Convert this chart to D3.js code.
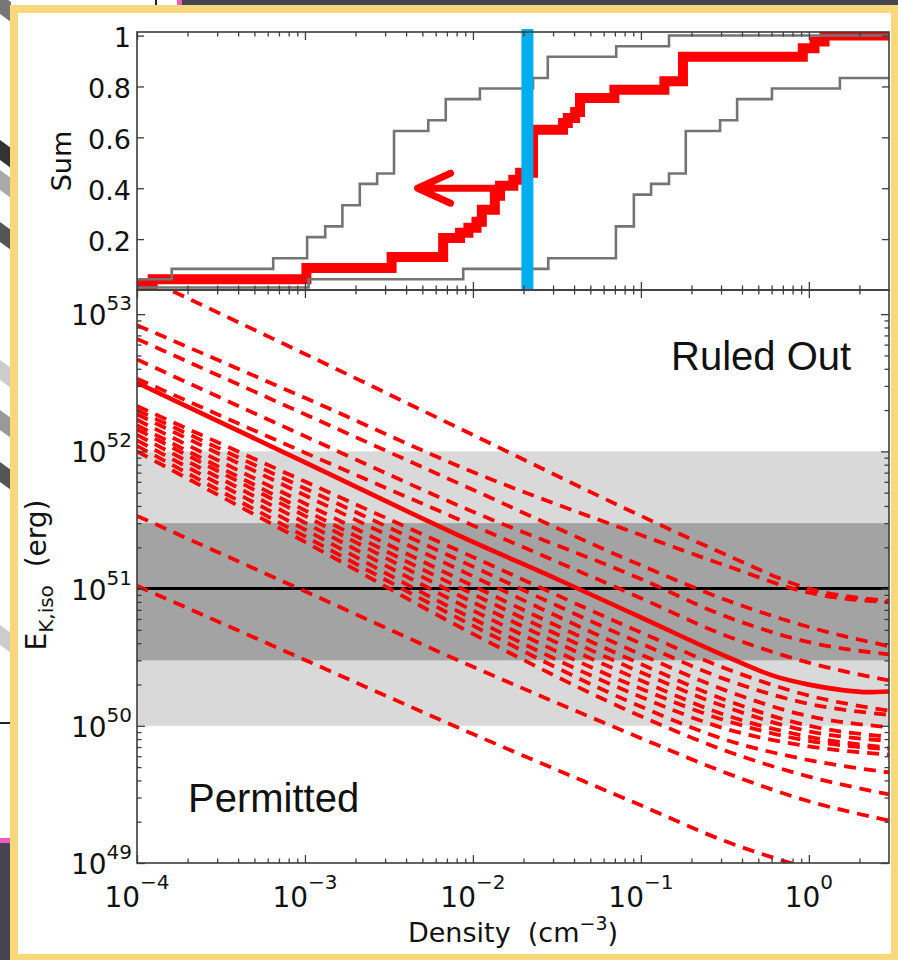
<!DOCTYPE html>
<html>
<head>
<meta charset="utf-8">
<script src="https://cdn.jsdelivr.net/npm/d3@7"></script>
<style>
  body { margin: 0; background: #fff; }
  svg { display: block; }
</style>
</head>
<body>
<svg id="chart" width="898" height="960"></svg>
<script>
// ---- top panel: cumulative sums vs density (step curves) ----
const upperDensity = [1e-4, 1.61e-4, 6.47e-4, 1.03e-3, 1.32e-3, 1.67e-3, 2.12e-3, 2.69e-3, 3.39e-3, 5.42e-3, 6.89e-3, 0.0110, 0.0228, 0.0279, 0.0713, 0.147, 3];
const upperSum     = [0.042, 0.083, 0.125, 0.208, 0.25, 0.333, 0.417, 0.458, 0.625, 0.667, 0.75, 0.792, 0.833, 0.917, 0.958, 1.0, 1.0];

const lowerDensity = [1e-4, 1.05e-3, 8.75e-3, 0.0281, 0.0710, 0.0908, 0.115, 0.147, 0.185, 0.296, 0.374, 0.603, 1.53, 3];
const lowerSum     = [0.01, 0.042, 0.083, 0.125, 0.25, 0.375, 0.417, 0.458, 0.625, 0.667, 0.75, 0.792, 0.833, 0.833];

const redDensity = [1e-4, 1.24e-4, 1.02e-3, 3.28e-3, 6.65e-3, 8.38e-3, 9.40e-3, 0.0105, 0.0113, 0.0135, 0.0145, 0.0174, 0.0191, 0.0228, 0.0344, 0.0367, 0.0406, 0.0434, 0.0695, 0.138, 0.178, 0.920, 1.08, 1.24, 3];
const redSum     = [0.02, 0.042, 0.086, 0.13, 0.204, 0.225, 0.245, 0.268, 0.315, 0.37, 0.41, 0.433, 0.461, 0.63, 0.656, 0.676, 0.70, 0.755, 0.787, 0.82, 0.917, 0.95, 0.977, 1.0, 1.0];

const markerDensity = 0.0211;
const arrowFrom = [0.0138, 0.40];
const arrowTo = [0.00468, 0.40];

// ---- bottom panel: E_K,iso (log10 erg) vs density ----
const ekDensity = [1e-4, 1e-3, 1e-2, 0.1, 0.316, 1, 3];
const ekLines = [
  [53.29, 52.71, 52.12, 51.53, 51.25, 51.00, 50.91],
  [52.92, 52.39, 51.85, 51.39, 51.17, 50.97, 50.90],
  [52.82, 52.27, 51.72, 51.17, 50.92, 50.72, 50.58],
  [52.67, 52.11, 51.56, 51.07, 50.80, 50.61, 50.52],
  [52.53, 51.99, 51.46, 50.93, 50.66, 50.46, 50.33],
  [52.33, 51.78, 51.23, 50.68, 50.42, 50.22, 50.11],
  [52.30, 51.73, 51.16, 50.60, 50.34, 50.16, 50.08],
  [52.27, 51.68, 51.09, 50.52, 50.26, 50.07, 49.99],
  [52.23, 51.62, 51.02, 50.45, 50.19, 50.00, 49.92],
  [52.19, 51.57, 50.96, 50.39, 50.14, 49.96, 49.89],
  [52.16, 51.53, 50.90, 50.33, 50.08, 49.92, 49.84],
  [52.12, 51.48, 50.84, 50.27, 50.04, 49.89, 49.83],
  [52.08, 51.43, 50.78, 50.21, 49.98, 49.85, 49.79],
  [52.04, 51.38, 50.73, 50.14, 49.90, 49.75, 49.66],
  [52.00, 51.34, 50.67, 50.07, 49.82, 49.63, 49.50],
  [51.53, 50.98, 50.43, 49.91, 49.66, 49.45, 49.31],
  [51.02, 50.48, 49.94, 49.42, 49.16, 48.96, 48.80]
];
const bestDensity = [1e-4, 1e-3, 1e-2, 0.0316, 0.1, 0.316, 0.631, 1, 1.585, 2.24, 3];
const bestLogE    = [52.50, 51.92, 51.34, 51.07, 50.79, 50.51, 50.36, 50.30, 50.26, 50.245, 50.25];

const bandOuter = [1e50, 1e52];
const bandInner = [3e50, 3e51];
const eRef = 1e51;

// ---- ticks ----
const densTicks = [1e-4, 1e-3, 1e-2, 1e-1, 1];
const densLabels = ["\u22124", "\u22123", "\u22122", "\u22121", "0"];
const sumTicks = [0.2, 0.4, 0.6, 0.8, 1];
const sumLabels = ["0.2", "0.4", "0.6", "0.8", "1"];
const eTicks = [1e49, 1e50, 1e51, 1e52, 1e53];
const eLabels = ["49", "50", "51", "52", "53"];

const tickFont = "'DejaVu Sans', sans-serif";
const textFont = "'Liberation Sans', Arial, sans-serif";
const axisColor = "#3c3c3c";

const svg = d3.select("#chart");

// ---- surroundings (slide background + frame) ----
svg.append("rect").attr("x", 0).attr("y", 0).attr("width", 898).attr("height", 960).attr("fill", "#fff");
svg.append("rect").attr("x", 182).attr("y", 0).attr("width", 716).attr("height", 7).attr("fill", "#45444f");
svg.append("rect").attr("x", 177).attr("y", 0).attr("width", 5).attr("height", 7).attr("fill", "#f25cc2");
svg.append("rect").attr("x", 155).attr("y", 0).attr("width", 2).attr("height", 7).attr("fill", "#222");
let stripes = [[-6, "#777"], [140, "#333"], [170, "#aaa"], [222, "#555"], [360, "#ccc"], [410, "#999"], [462, "#555"], [625, "#ccc"]];
stripes.forEach(s => {
  svg.append("polygon")
    .attr("points", `0,${s[0]} 11,${s[0] + 8} 11,${s[0] + 28} 0,${s[0] + 20}`)
    .attr("fill", s[1]);
});
svg.append("rect").attr("x", 0).attr("y", 722).attr("width", 11).attr("height", 2).attr("fill", "#222");
svg.append("rect").attr("x", 0).attr("y", 838).attr("width", 11).attr("height", 5).attr("fill", "#f25cc2");
svg.append("rect").attr("x", 0).attr("y", 843).attr("width", 11).attr("height", 117).attr("fill", "#45444f");
svg.append("rect")
  .attr("x", 14).attr("y", 9).attr("width", 881).attr("height", 949)
  .attr("fill", "#fff").attr("stroke", "#f9d87c").attr("stroke-width", 8);

// ---- scales ----
const plotL = 137, plotR = 889, plotT = 32, plotM = 290, plotB = 863;
const x = d3.scaleLog().domain([1e-4, 3]).range([plotL, plotR]);
const ySum = d3.scaleLinear().domain([0, 1.014]).range([plotM, plotT]);
const yE = d3.scaleLog().domain([1e49, 1.5e53]).range([plotB, plotM]);

const defs = svg.append("defs");
defs.append("clipPath").attr("id", "clipTop").append("rect")
  .attr("x", plotL).attr("y", plotT).attr("width", plotR - plotL).attr("height", plotM - plotT);
defs.append("clipPath").attr("id", "clipBot").append("rect")
  .attr("x", plotL).attr("y", plotM).attr("width", plotR - plotL).attr("height", plotB - plotM);

// ---- top panel ----
let topBody = svg.append("g").attr("clip-path", "url(#clipTop)");
let stepLine = d3.line().x(d => x(d[0])).y(d => ySum(d[1])).curve(d3.curveStepAfter);

topBody.append("path")
  .attr("d", stepLine(redDensity.map((d, i) => [d, redSum[i]])))
  .attr("fill", "none").attr("stroke", "#ff0000").attr("stroke-width", 10)
  .attr("stroke-linejoin", "miter");

[[upperDensity, upperSum], [lowerDensity, lowerSum]].forEach(c => {
  topBody.append("path")
    .attr("d", stepLine(c[0].map((d, i) => [d, c[1][i]])))
    .attr("fill", "none").attr("stroke", "#747474").attr("stroke-width", 2.6);
});

svg.append("line")
  .attr("x1", x(markerDensity)).attr("x2", x(markerDensity))
  .attr("y1", plotT - 3).attr("y2", plotM - 1)
  .attr("stroke", "#00aeef").attr("stroke-width", 12);

// arrow
let ax0 = x(arrowFrom[0]), ax1 = x(arrowTo[0]), ay = ySum(arrowTo[1]);
svg.append("path")
  .attr("d", `M${ax0},${ay}L${ax1 + 3},${ay}M${ax1 + 33},${ay - 15}L${ax1},${ay}L${ax1 + 33},${ay + 15}`)
  .attr("fill", "none").attr("stroke", "#ff0000").attr("stroke-width", 7)
  .attr("stroke-linecap", "round").attr("stroke-linejoin", "round");

// ---- bottom panel ----
let botBody = svg.append("g").attr("clip-path", "url(#clipBot)");
botBody.append("rect")
  .attr("x", plotL).attr("width", plotR - plotL)
  .attr("y", yE(bandOuter[1])).attr("height", yE(bandOuter[0]) - yE(bandOuter[1]))
  .attr("fill", "#d9d9d9");
botBody.append("rect")
  .attr("x", plotL).attr("width", plotR - plotL)
  .attr("y", yE(bandInner[1])).attr("height", yE(bandInner[0]) - yE(bandInner[1]))
  .attr("fill", "#a3a3a3");
botBody.append("line")
  .attr("x1", plotL).attr("x2", plotR).attr("y1", yE(eRef)).attr("y2", yE(eRef))
  .attr("stroke", "#000").attr("stroke-width", 3);

let eLine = d3.line().x(d => x(d[0])).y(d => yE(Math.pow(10, d[1]))).curve(d3.curveMonotoneX);

botBody.selectAll(".ekline").data(ekLines).enter()
  .append("path")
  .attr("class", "ekline")
  .attr("d", row => eLine(row.map((v, i) => [ekDensity[i], v])))
  .attr("fill", "none").attr("stroke", "#ff0000").attr("stroke-width", 3.8)
  .attr("stroke-dasharray", "12,8");

botBody.append("path")
  .attr("d", eLine(bestDensity.map((d, i) => [d, bestLogE[i]])))
  .attr("fill", "none").attr("stroke", "#ff0000").attr("stroke-width", 4.6);

// ---- frames and ticks ----
function tickRow(axisFn, scale, values, size, tx, ty) {
  svg.append("g").attr("transform", `translate(${tx},${ty})`)
    .call(axisFn(scale).tickValues(values).tickSize(size).tickFormat(""))
    .call(g => g.select(".domain").remove())
    .call(g => g.selectAll("line").attr("stroke", axisColor).attr("stroke-width", 1.3));
}

let minorX = [];
for (let k = -4; k <= 0; k++) for (let m = 2; m <= 9; m++) {
  let v = m * Math.pow(10, k);
  if (v < 3) minorX.push(v);
}
let minorE = [];
for (let k = 49; k <= 53; k++) for (let m = 2; m <= 9; m++) {
  let v = m * Math.pow(10, k);
  if (v < 1.5e53) minorE.push(v);
}

[plotT, plotM].forEach(y0 => {
  tickRow(d3.axisTop, x, densTicks, -8, 0, y0);
  tickRow(d3.axisTop, x, minorX, -4.5, 0, y0);
});
[plotM, plotB].forEach(y0 => {
  tickRow(d3.axisBottom, x, densTicks, -8, 0, y0);
  tickRow(d3.axisBottom, x, minorX, -4.5, 0, y0);
});
tickRow(d3.axisLeft, ySum, sumTicks, -7, plotL, 0);
tickRow(d3.axisRight, ySum, sumTicks, -7, plotR, 0);
tickRow(d3.axisLeft, yE, eTicks, -8, plotL, 0);
tickRow(d3.axisRight, yE, eTicks, -8, plotR, 0);
tickRow(d3.axisLeft, yE, minorE, -4.5, plotL, 0);
tickRow(d3.axisRight, yE, minorE, -4.5, plotR, 0);

[[plotT, plotM], [plotM, plotB]].forEach(p => {
  svg.append("rect")
    .attr("x", plotL).attr("y", p[0]).attr("width", plotR - plotL).attr("height", p[1] - p[0])
    .attr("fill", "none").attr("stroke", axisColor).attr("stroke-width", 1.6);
});

// ---- labels ----
sumTicks.forEach((d, i) => {
  svg.append("text")
    .attr("x", 131).attr("y", ySum(d) + 11.5)
    .attr("text-anchor", "end")
    .attr("font-family", tickFont).attr("font-size", 27).attr("fill", "#111")
    .text(sumLabels[i]);
});

eTicks.forEach((d, i) => {
  let t = svg.append("text")
    .attr("x", 132).attr("y", yE(d) + 11)
    .attr("text-anchor", "end")
    .attr("font-family", tickFont).attr("font-size", 28).attr("fill", "#111");
  t.append("tspan").text("10");
  t.append("tspan").attr("dy", -15).attr("font-size", 20).text(eLabels[i]);
});

densTicks.forEach((d, i) => {
  let t = svg.append("text")
    .attr("x", x(d)).attr("y", 907)
    .attr("text-anchor", "middle")
    .attr("font-family", tickFont).attr("font-size", 28).attr("fill", "#111");
  t.append("tspan").text("10");
  t.append("tspan").attr("dy", -18).attr("font-size", 20).text(densLabels[i]);
});

svg.append("text")
  .attr("transform", "translate(71,161) rotate(-90)")
  .attr("text-anchor", "middle")
  .attr("font-family", tickFont).attr("font-size", 27).attr("fill", "#111")
  .text("Sum");

let eLab = svg.append("text")
  .attr("transform", "translate(46,575) rotate(-90)")
  .attr("text-anchor", "middle")
  .attr("font-family", tickFont).attr("font-size", 28).attr("fill", "#111");
eLab.append("tspan").text("E");
eLab.append("tspan").attr("dy", 7).attr("font-size", 20).text("K,iso");
eLab.append("tspan").attr("dy", -7).text("\u00a0\u00a0(erg)");

let dLab = svg.append("text")
  .attr("x", 513).attr("y", 942)
  .attr("text-anchor", "middle")
  .attr("font-family", tickFont).attr("font-size", 27).attr("fill", "#111");
dLab.append("tspan").text("Density\u00a0\u00a0(cm");
dLab.append("tspan").attr("dy", -12).attr("font-size", 19).text("\u22123");
dLab.append("tspan").attr("dy", 12).text(")");

svg.append("text")
  .attr("x", 671).attr("y", 370)
  .attr("font-family", textFont).attr("font-size", 40).attr("fill", "#111")
  .text("Ruled Out");
svg.append("text")
  .attr("x", 188).attr("y", 812)
  .attr("font-family", textFont).attr("font-size", 40).attr("fill", "#111")
  .text("Permitted");
</script>
</body>
</html>
